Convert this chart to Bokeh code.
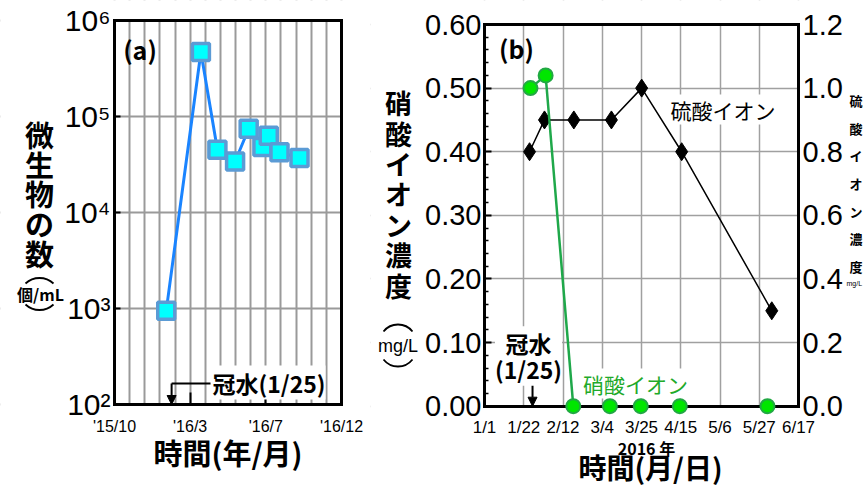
import math
import datetime as dt
from bokeh.plotting import figure
from bokeh.layouts import row
from bokeh.models import (FixedTicker, Label, Arrow, NormalHead, BoxAnnotation,
                          LinearAxis, LogAxis, Range1d, NumeralTickFormatter)
from bokeh.embed import file_html
from bokeh.resources import INLINE

# ---------------- data: panel (a) ----------------
microbe_dates = ["2016-01-14", "2016-03-23", "2016-04-25", "2016-05-31", "2016-06-27",
                 "2016-07-25", "2016-08-07", "2016-08-29", "2016-10-08"]
microbe_counts = [950, 470000, 45000, 34000, 74500, 48000, 63000, 42500, 37000]
a_tick_months = [0, 5, 10, 15]
a_tick_labels = ["'15/10", "'16/3", "'16/7", "'16/12"]
a_grid_months = list(range(16))
a_y_ticks = [100, 1000, 10000, 100000, 1000000]
a_y_labels = ["10²", "10³", "10⁴", "10⁵", "10⁶"]
flood_date = "2016-01-25"

# ---------------- data: panel (b) ----------------
nitrate_days = [24.6, 32.7, 47.5, 67.1, 83.6, 104.5, 151.4]
nitrate_mg = [0.50, 0.52, 0.0, 0.0, 0.0, 0.0, 0.0]
sulfate_days = [24.1, 32.1, 47.8, 67.9, 84.1, 105.5, 153.7]
sulfate_mg = [0.80, 0.90, 0.90, 0.90, 1.00, 0.80, 0.30]
b_tick_days = [0, 21, 42, 63, 84, 105, 126, 147, 168]
b_tick_labels = ["1/1", "1/22", "2/12", "3/4", "3/25", "4/15", "5/6", "5/27", "6/17"]
b_left_ticks = [0.0, 0.1, 0.2, 0.3, 0.4, 0.5, 0.6]
b_right_ticks = [0.0, 0.2, 0.4, 0.6, 0.8, 1.0, 1.2]
flood_day_b = 25.7

CJK = "Noto Sans CJK JP"
SANS = "Liberation Sans"

# ---------------- layout (picture pixels) ----------------
OX, OY = 0, 0                 # Bokeh's page template has no body margin
H = 487
A_W, B_W = 370, 494
A_X0, A_X1, A_YT, A_YB = 114, 341, 20, 404          # plot box of panel (a)
B_X0, B_X1, B_YT, B_YB = 484, 798, 24, 405.7        # plot box of panel (b)
A_XMAX = 15
B_XMAX, B_LMAX, B_RMAX = 168, 0.6, 1.2


def months_since_oct2015(s):
    d = dt.date.fromisoformat(s)
    first = d.replace(day=1)
    nxt = (first + dt.timedelta(days=32)).replace(day=1)
    return (d.year - 2015) * 12 + (d.month - 10) + (d.day - 1) / (nxt - first).days


def lin(v0, p0, v1, p1, p):
    return v0 + (p - p0) * (v1 - v0) / (p1 - p0)


# picture pixel -> data helpers for annotation placement
def ax(px): return lin(0, A_X0, A_XMAX, A_X1, px)
def ay(py): return 10 ** lin(2, A_YB, 6, A_YT, py)
def bx(px): return lin(0, B_X0, B_XMAX, B_X1, px)
def by(py): return lin(0, B_YB, B_LMAX, B_YT, py)


mx = [months_since_oct2015(s) for s in microbe_dates]
flood_m = months_since_oct2015(flood_date)


def lab(p, x, y, text, size, bold=False, font=CJK, color="black", lh=None, bg=None,
        align="center"):
    kw = {}
    if lh is not None:
        kw["text_line_height"] = lh
    if bg is not None:
        kw["background_fill_color"] = bg
    p.add_layout(Label(x=x, y=y, text=text, text_font=font,
                       text_font_style="bold" if bold else "normal",
                       text_font_size=f"{size}px", text_color=color, text_align=align,
                       text_baseline="middle", **kw))


def side_bracket(p, fx, fy, cx, apex, half_w, sag, up):
    # a bracket lying on its side (the original's rotated parentheses round the unit)
    r = (half_w ** 2 + sag ** 2) / (2 * sag)
    th = math.asin(half_w / r)
    mid = math.pi / 2 if up else 3 * math.pi / 2
    cy = apex + r if up else apex - r
    p.arc(x=[fx(cx)], y=[fy(cy)], radius=r, radius_units="screen",
          start_angle=mid - th, end_angle=mid + th, line_color="black", line_width=1.8)


def masks(p, x_hi, y_lo, y_hi):
    for kw in (dict(right=0), dict(left=x_hi), dict(bottom=y_hi), dict(top=y_lo)):
        p.add_layout(BoxAnnotation(fill_color="white", fill_alpha=1.0, line_color=None,
                                   level="underlay", **kw))


def frame_axis(cls, **kw):
    base = dict(axis_line_width=3, axis_line_color="black", axis_line_cap="square",
                major_tick_in=0, major_tick_out=0, minor_tick_line_color=None,
                major_label_text_color="black")
    base.update(kw)
    return cls(**base)


def blank_axis(cls, **kw):
    return frame_axis(cls, ticker=FixedTicker(ticks=[]), major_label_text_font_size="0px", **kw)


# ---------------- panel (a) ----------------
pa = figure(width=A_W, height=H,
            x_range=Range1d(ax(OX), ax(OX + A_W)),
            y_range=Range1d(ay(OY + H), ay(OY)),
            y_axis_type="log", x_axis_location=None, y_axis_location=None,
            output_backend="svg", toolbar_location=None,
            min_border=0, min_border_left=0, min_border_right=0,
            min_border_top=0, min_border_bottom=0)
pa.outline_line_color = None

pa.xgrid.ticker = FixedTicker(ticks=a_grid_months)
pa.ygrid.ticker = FixedTicker(ticks=a_y_ticks)
for g in (pa.xgrid, pa.ygrid):
    g.grid_line_color = "#9a9a9a"
    g.grid_line_width = 2
masks(pa, A_XMAX, 100, 1e6)

pa.add_layout(frame_axis(LinearAxis, fixed_location=100, bounds=(0, A_XMAX),
                         ticker=FixedTicker(ticks=a_tick_months),
                         major_label_overrides=dict(zip(a_tick_months, a_tick_labels)),
                         major_tick_in=12, major_tick_line_width=2, major_label_standoff=13,
                         major_label_text_font=SANS, major_label_text_font_size="16px"),
              "below")
pa.add_layout(frame_axis(LogAxis, fixed_location=0, bounds=(100, 1e6),
                         ticker=FixedTicker(ticks=a_y_ticks),
                         major_label_overrides=dict(zip(a_y_ticks, a_y_labels)),
                         major_tick_in=6, major_tick_line_width=2, major_label_standoff=4,
                         major_label_text_font=SANS, major_label_text_font_size="30px"),
              "left")
pa.add_layout(blank_axis(LinearAxis, fixed_location=1e6, bounds=(0, A_XMAX)), "above")
pa.add_layout(blank_axis(LogAxis, fixed_location=A_XMAX, bounds=(100, 1e6)), "right")

pa.line(mx, microbe_counts, line_color="#1a84ff", line_width=3)
pa.scatter(mx, microbe_counts, marker="square", size=17, fill_color="#00ffff",
           line_color="#5b9bd5", line_width=3.5)

# flood arrow (a)
y_lvl = ay(383)
pa.add_layout(Arrow(end=None, x_start=flood_m, y_start=y_lvl, x_end=ax(210), y_end=y_lvl,
                    line_width=2, line_color="black"))
pa.add_layout(Arrow(end=NormalHead(size=9, fill_color="black", line_color="black"),
                    x_start=flood_m, y_start=y_lvl, x_end=flood_m, y_end=100,
                    line_width=2, line_color="black"))

lab(pa, ax(268.5), ay(382), "冠水(1/25)", 23, bold=True, bg="white")
lab(pa, ax(139.5), ay(48), "(a)", 25, bold=True)
lab(pa, ax(39), ay(193), "微\n生\n物\nの\n数", 29, bold=True, lh=0.714)
side_bracket(pa, ax, ay, 39, 277.5, 14, 5.5, up=True)
side_bracket(pa, ax, ay, 39, 309.5, 14, 5.5, up=False)
lab(pa, ax(40), ay(293), "個/mL", 16, bold=True)
lab(pa, ax(227.5), ay(451), "時間(年/月)", 29, bold=True)

# ---------------- panel (b) ----------------
pb = figure(width=B_W, height=H,
            x_range=Range1d(bx(OX + A_W), bx(OX + A_W + B_W)),
            y_range=Range1d(by(OY + H), by(OY)),
            x_axis_location=None, y_axis_location=None,
            output_backend="svg", toolbar_location=None,
            min_border=0, min_border_left=0, min_border_right=0,
            min_border_top=0, min_border_bottom=0)
pb.outline_line_color = None
pb.extra_y_ranges = {"right": Range1d(by(OY + H) * B_RMAX / B_LMAX, by(OY) * B_RMAX / B_LMAX)}

pb.xgrid.ticker = FixedTicker(ticks=b_tick_days)
pb.ygrid.ticker = FixedTicker(ticks=b_left_ticks)
for g in (pb.xgrid, pb.ygrid):
    g.grid_line_color = "#a0a0a0"
    g.grid_line_width = 1.5
masks(pb, B_XMAX, 0, B_LMAX)

minor_left = [round(i * 0.02, 2) for i in range(31) if i % 5]
pb.add_layout(frame_axis(LinearAxis, fixed_location=0, bounds=(0, B_XMAX),
                         ticker=FixedTicker(ticks=b_tick_days),
                         major_label_overrides=dict(zip(b_tick_days, b_tick_labels)),
                         major_label_standoff=12, major_label_text_font=SANS,
                         major_label_text_font_size="17px"),
              "below")
pb.add_layout(frame_axis(LinearAxis, fixed_location=0, bounds=(0, B_LMAX),
                         ticker=FixedTicker(ticks=b_left_ticks, minor_ticks=minor_left),
                         formatter=NumeralTickFormatter(format="0.00"),
                         major_tick_in=7, major_tick_line_width=2,
                         minor_tick_line_color="black",
                         minor_tick_in=4, minor_tick_out=0, minor_tick_line_width=1.5,
                         major_label_standoff=3, major_label_text_font=SANS,
                         major_label_text_font_size="29px"),
              "left")
pb.add_layout(frame_axis(LinearAxis, y_range_name="right", fixed_location=B_XMAX,
                         bounds=(0, B_RMAX), ticker=FixedTicker(ticks=b_right_ticks),
                         formatter=NumeralTickFormatter(format="0.0"),
                         major_label_standoff=4, major_label_text_font=SANS,
                         major_label_text_font_size="29px"),
              "right")
pb.add_layout(blank_axis(LinearAxis, fixed_location=B_LMAX, bounds=(0, B_XMAX)), "above")

pb.line(sulfate_days, sulfate_mg, y_range_name="right", line_color="black", line_width=1.5)
pb.scatter(sulfate_days, sulfate_mg, y_range_name="right", marker="diamond", size=18,
           fill_color="black", line_color="black")
pb.line(nitrate_days, nitrate_mg, line_color="#1fa84a", line_width=2.5)
pb.scatter(nitrate_days, nitrate_mg, marker="circle", size=14, fill_color="#00e600",
           line_color="#22a844", line_width=2, level="overlay")

pb.add_layout(Arrow(end=NormalHead(size=9, fill_color="black", line_color="black"),
                    x_start=flood_day_b, y_start=by(382), x_end=flood_day_b, y_end=0.0,
                    line_width=2, line_color="black"))
lab(pb, bx(528), by(355.5), "冠水\n(1/25)", 23, bold=True, lh=0.75, bg="white")
lab(pb, bx(516), by(47), "(b)", 25, bold=True)
lab(pb, bx(722.5), by(109), "硫酸イオン", 21, bg="white")
lab(pb, bx(635), by(383), "硝酸イオン", 21, color="#1faa2a", bg="white")
lab(pb, bx(398), by(193.5), "硝\n酸\nイ\nオ\nン\n濃\n度", 27, bold=True, lh=0.78)
side_bracket(pb, bx, by, 397.5, 324, 14.5, 7, up=True)
side_bracket(pb, bx, by, 397.5, 366, 14.5, 7, up=False)
lab(pb, bx(397.5), by(345), "mg/L", 18, font=SANS)
lab(pb, bx(646), by(447), "2016 年", 16, bold=True)
lab(pb, bx(650), by(466), "時間(月/日)", 28, bold=True)
# right-hand axis title (only its edge shows in the original)
lab(pb, bx(849), by(183), "硫\n酸\nイ\nオ\nン\n濃\n度", 13, bold=True, lh=1.46, align="left")
lab(pb, bx(846), by(283), "mg/L", 7, font=SANS, align="left")

layout = row(pa, pb)
open("out.html", "w").write(file_html(layout, INLINE))
